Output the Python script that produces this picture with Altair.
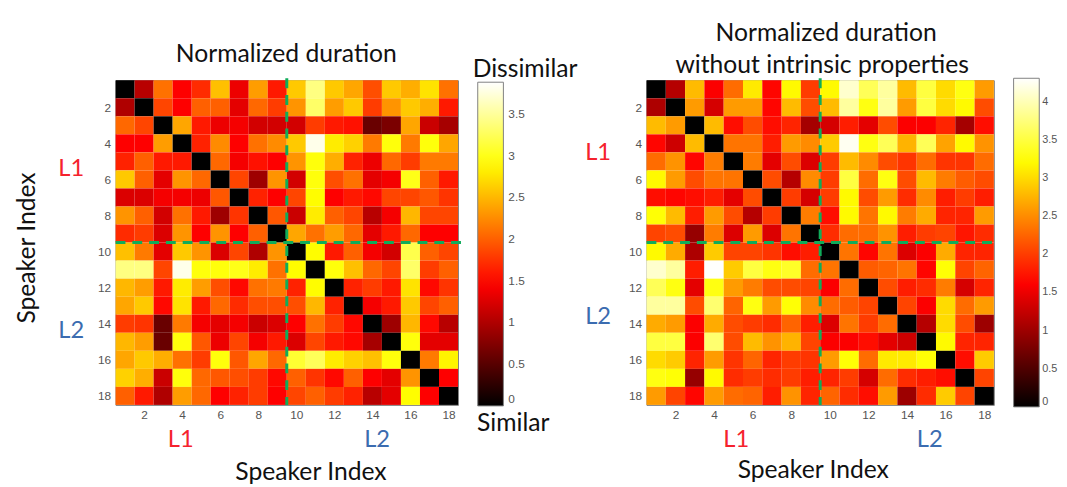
import altair as alt
import pandas as pd

FONT = "Lato"
TICK_FONT = "Liberation Sans"
GREEN = "#10ac5a"
RED_TXT = "#f5222d"
BLUE_TXT = "#3b6cb0"

tick_values = [2, 4, 6, 8, 10, 12, 14, 16, 18]
hot_colors = ["#000000", "#ff0000", "#ffff00", "#ffffff"]

# Left panel: normalized duration (max ~3.88)
left_stops = [0, 1.455, 2.91, 3.88]
left_legend_values = [0, 0.5, 1, 1.5, 2, 2.5, 3, 3.5]
left_rows = [
    [0, 1.05, 2.1, 1.45, 1.7, 2.55, 1.35, 2.35, 1.6, 2.6, 3.4, 2.6, 2.4, 1.9, 2.6, 2.45, 2.75, 2.1],
    [1.0, 0, 1.85, 1.45, 2.0, 2.0, 1.3, 2.05, 1.8, 2.3, 3.3, 2.35, 2.6, 1.8, 2.3, 2.6, 2.45, 1.6],
    [2.05, 1.85, 0, 2.4, 1.6, 1.35, 1.4, 1.2, 1.2, 1.2, 1.8, 1.6, 1.55, 0.6, 0.7, 2.4, 1.15, 0.95],
    [1.45, 1.45, 2.35, 0, 1.65, 2.25, 1.45, 2.1, 2.25, 2.6, 3.8, 2.8, 2.65, 2.15, 2.95, 2.15, 2.95, 2.4],
    [1.65, 2.0, 1.6, 1.6, 0, 2.05, 1.4, 1.55, 1.45, 2.3, 2.95, 2.45, 1.65, 1.35, 2.05, 1.8, 2.15, 2.15],
    [2.6, 2.0, 1.3, 2.3, 2.05, 0, 1.85, 0.9, 2.3, 1.2, 2.95, 1.9, 2.1, 1.3, 1.4, 3.0, 2.0, 1.6],
    [1.25, 1.25, 1.4, 1.4, 1.35, 1.95, 0, 1.65, 1.45, 1.85, 2.9, 1.45, 1.6, 1.5, 1.85, 1.85, 1.95, 1.75],
    [2.3, 2.0, 1.2, 2.1, 1.6, 0.9, 1.75, 0, 1.95, 1.15, 2.8, 2.0, 1.85, 1.05, 1.4, 2.5, 1.85, 1.85],
    [1.7, 1.8, 1.25, 2.3, 1.45, 2.3, 1.45, 2.0, 0, 2.4, 2.1, 2.35, 2.05, 1.3, 1.6, 2.05, 1.45, 1.45],
    [2.55, 2.15, 1.3, 2.6, 2.3, 1.25, 1.85, 1.0, 2.3, 0, 2.9, 1.6, 2.0, 1.4, 1.2, 3.2, 2.0, 1.85],
    [3.4, 3.4, 1.85, 3.8, 2.95, 2.95, 3.0, 2.8, 2.1, 2.9, 0, 2.95, 2.55, 2.05, 1.85, 3.3, 1.8, 2.0],
    [2.5, 2.35, 1.6, 2.8, 2.35, 1.9, 1.5, 2.1, 2.15, 1.65, 2.9, 0, 1.65, 1.8, 1.6, 2.75, 1.5, 1.75],
    [2.4, 2.6, 1.5, 2.75, 1.6, 2.05, 1.7, 1.9, 1.9, 1.9, 2.5, 1.65, 0, 1.4, 1.6, 2.6, 1.85, 2.0],
    [1.8, 1.75, 0.6, 2.15, 1.4, 1.3, 1.4, 1.15, 1.25, 1.45, 2.1, 1.8, 1.5, 0, 0.9, 2.5, 1.5, 1.05],
    [2.5, 2.35, 0.6, 2.95, 1.95, 1.35, 1.85, 1.4, 1.6, 1.25, 1.85, 1.6, 1.5, 0.95, 0, 2.95, 1.3, 1.3],
    [2.4, 2.6, 2.45, 2.1, 1.8, 2.95, 1.95, 2.4, 2.05, 3.1, 3.25, 2.8, 2.65, 2.55, 2.95, 0, 2.15, 2.85],
    [2.65, 2.45, 1.15, 2.95, 2.05, 1.95, 1.9, 1.8, 1.5, 2.0, 1.75, 1.5, 2.0, 1.45, 1.3, 2.3, 0, 1.45],
    [2.0, 1.6, 1.0, 2.35, 2.05, 1.45, 1.65, 1.8, 1.45, 1.85, 2.0, 1.8, 1.65, 1.05, 1.3, 2.9, 1.45, 0],
]

# Right panel: normalized duration without intrinsic properties (max ~4.31)
right_stops = [0, 1.62, 3.23, 4.31]
right_legend_values = [0, 0.5, 1, 1.5, 2, 2.5, 3, 3.5, 4]
right_rows = [
    [0, 1.15, 2.8, 1.6, 2.3, 3.1, 1.65, 3.2, 2.0, 3.2, 4.1, 3.6, 3.9, 2.8, 3.5, 3.0, 3.3, 2.6],
    [1.1, 0, 2.6, 1.35, 2.6, 2.6, 1.65, 2.8, 2.1, 2.8, 3.9, 3.3, 3.9, 2.6, 3.5, 3.0, 3.2, 2.1],
    [2.8, 2.6, 0, 2.8, 1.7, 2.1, 1.7, 1.85, 1.05, 1.35, 1.8, 1.45, 2.1, 1.6, 1.6, 1.85, 1.05, 1.7],
    [1.65, 1.3, 2.8, 0, 2.35, 2.35, 1.8, 2.6, 2.5, 2.9, 4.25, 3.3, 3.6, 2.75, 3.6, 2.65, 3.2, 2.55],
    [2.3, 2.55, 1.65, 2.4, 0, 2.4, 1.45, 2.1, 1.4, 2.0, 2.8, 2.5, 2.1, 1.95, 2.3, 1.95, 1.95, 2.3],
    [3.2, 2.6, 2.1, 2.35, 2.35, 0, 2.1, 1.15, 2.5, 2.0, 3.5, 2.3, 3.3, 2.1, 2.8, 2.4, 2.2, 2.1],
    [1.7, 1.65, 1.7, 1.8, 1.45, 2.1, 0, 2.0, 1.35, 2.0, 3.2, 2.1, 2.6, 1.9, 2.5, 1.8, 2.0, 1.8],
    [3.25, 2.8, 1.8, 2.6, 2.1, 1.15, 2.0, 0, 2.4, 1.7, 3.2, 2.35, 3.2, 2.4, 2.7, 1.85, 1.85, 2.6],
    [2.05, 2.1, 0.95, 2.4, 1.4, 2.6, 1.4, 2.35, 0, 1.9, 2.3, 2.3, 2.55, 1.8, 2.0, 2.05, 1.75, 1.9],
    [3.2, 2.7, 1.1, 2.9, 2.05, 2.05, 1.95, 1.7, 1.8, 0, 2.35, 1.65, 2.35, 1.4, 1.6, 2.7, 1.85, 1.85],
    [4.1, 3.9, 1.8, 4.3, 2.9, 3.5, 3.3, 3.4, 2.3, 2.35, 0, 2.2, 2.25, 2.35, 1.65, 3.25, 2.05, 2.25],
    [3.6, 3.3, 1.45, 3.3, 2.6, 2.4, 2.1, 2.1, 2.05, 1.6, 2.3, 0, 2.1, 1.8, 1.9, 2.4, 1.35, 1.85],
    [3.9, 3.9, 2.1, 3.7, 2.25, 3.3, 2.6, 3.25, 2.5, 2.3, 2.2, 2.05, 0, 2.05, 1.6, 3.0, 2.3, 2.6],
    [2.7, 2.6, 1.6, 2.7, 2.1, 2.0, 1.9, 2.25, 1.8, 1.4, 2.35, 2.0, 2.3, 0, 1.15, 3.0, 2.1, 1.0],
    [3.5, 3.5, 1.6, 3.7, 2.1, 2.8, 2.55, 2.75, 2.05, 1.6, 1.6, 1.7, 1.45, 1.3, 0, 3.2, 1.85, 1.85],
    [3.0, 2.9, 1.85, 2.6, 1.95, 2.25, 1.85, 2.0, 1.95, 2.6, 3.25, 2.3, 3.1, 3.1, 3.25, 0, 1.7, 2.9],
    [3.3, 3.25, 0.95, 3.2, 1.9, 2.0, 1.9, 2.0, 1.8, 1.85, 2.0, 1.35, 2.3, 1.9, 1.8, 1.7, 0, 2.05],
    [2.6, 2.05, 1.65, 2.6, 2.3, 2.25, 1.8, 2.55, 1.85, 2.25, 1.9, 1.7, 2.6, 1.0, 1.9, 2.9, 2.05, 0],
]


def to_frame(rows):
    recs = []
    for i, r in enumerate(rows):
        for j, v in enumerate(r):
            recs.append({"row": i + 1, "col": j + 1, "v": v})
    return pd.DataFrame(recs)


def txt(s, x, y, size=25, color="#111111", angle=None):
    kw = dict(fontSize=size, color=color, font=FONT, align="center", baseline="middle")
    if angle is not None:
        kw["angle"] = angle
    return alt.Chart(pd.DataFrame({"t": [s]})).mark_text(**kw).encode(
        x=alt.value(x), y=alt.value(y), text="t:N"
    )


def panel(rows, stops, legend_vals, w, h, leg_x, leg_y, leg_len, label_size, label_off, texts):
    df = to_frame(rows)
    xs = alt.Scale(domain=[0.5, 18.5], nice=False, zero=False)
    ys = alt.Scale(domain=[0.5, 18.5], nice=False, zero=False, reverse=True)
    heat = (
        alt.Chart(df)
        .transform_calculate(
            x0="datum.col - 0.5", x1="datum.col + 0.5",
            y0="datum.row - 0.5", y1="datum.row + 0.5",
        )
        .mark_rect()
        .encode(
            x=alt.X("x0:Q", scale=xs, axis=alt.Axis(values=tick_values, title=None)),
            x2="x1:Q",
            y=alt.Y("y0:Q", scale=ys, axis=alt.Axis(values=tick_values, title=None)),
            y2="y1:Q",
            color=alt.Color(
                "v:Q",
                scale=alt.Scale(domain=stops, range=hot_colors, interpolate="rgb"),
                legend=alt.Legend(
                    orient="none", legendX=leg_x, legendY=leg_y, direction="vertical",
                    gradientLength=leg_len, gradientThickness=26, title=None,
                    values=legend_vals, labelColor="#555555", labelFontSize=label_size,
                    labelFont=TICK_FONT, gradientStrokeColor="#808080",
                    gradientStrokeWidth=1, labelOffset=label_off, labelOverlap=False,
                    labelBaseline="middle", labelExpr="format(datum.value, '~g')",
                    padding=0,
                ),
            ),
        )
    )
    one = pd.DataFrame({"k": [0]})
    vline = alt.Chart(one).mark_rule(color=GREEN, strokeWidth=3, strokeDash=[10, 7]).encode(
        x=alt.datum(9.5), y=alt.value(-2), y2=alt.value(h)
    )
    hline = alt.Chart(one).mark_rule(color=GREEN, strokeWidth=3, strokeDash=[10, 7]).encode(
        y=alt.datum(9.5), x=alt.value(0), x2=alt.value(w + 4)
    )
    return alt.layer(heat, vline, hline, *texts).properties(width=w, height=h)


W1, H = 347, 329
W2 = 352

left_texts = [
    txt("Normalized duration", 173, -26),
    txt("Dissimilar", 415, -11),
    txt("Similar", 403, 347),
    txt("L1", -45, 90, size=24, color=RED_TXT),
    txt("L2", -45, 254, size=24, color=BLUE_TXT),
    txt("L1", 66, 365, size=24, color=RED_TXT),
    txt("L2", 265, 365, size=24, color=BLUE_TXT),
    txt("Speaker Index", 198, 397),
    txt("Speaker Index", -90, 170, angle=270),
]
right_texts = [
    txt("Normalized duration", 182, -48),
    txt("without intrinsic properties", 178, -15),
    txt("L1", -49, 74, size=24, color=RED_TXT),
    txt("L2", -49, 240, size=24, color=BLUE_TXT),
    txt("L1", 91, 365, size=24, color=RED_TXT),
    txt("L2", 287, 365, size=24, color=BLUE_TXT),
    txt("Speaker Index", 169, 395),
]

left = panel(left_rows, left_stops, left_legend_values, W1, H, 367, 2, 328, 12, 5, left_texts)
right = panel(right_rows, right_stops, right_legend_values, W2, H, 372, -2, 333, 11, 3, right_texts)

chart = (
    alt.hconcat(left, right, spacing=191, bounds="flush")
    .resolve_scale(color="independent")
    .properties(padding={"left": 6, "top": 9, "right": 0, "bottom": 0}, background="white")
    .configure_view(stroke="#808080", strokeWidth=1)
    .configure_axis(
        labelFont=TICK_FONT, labelFontSize=12, labelColor="#555555",
        ticks=False, domain=False, grid=False, labelPadding=5,
    )
)

chart.save("out.html", embed_options={"renderer": "svg", "actions": False})
